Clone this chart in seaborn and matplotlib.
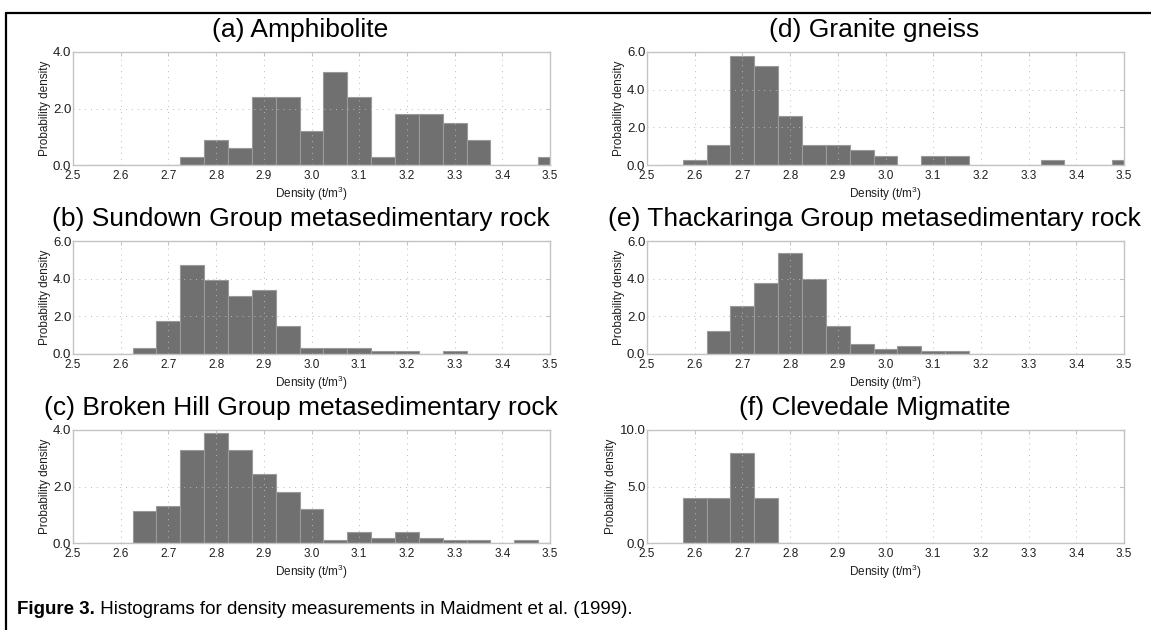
import numpy as np
import pandas as pd
import matplotlib
matplotlib.use("Agg")
import matplotlib.pyplot as plt
from matplotlib.lines import Line2D
import matplotlib.transforms as mtransforms
import seaborn as sns

# Bin centres (t/m^3), shared by all panels; bins are 0.05 wide
bin_centers = [2.55, 2.60, 2.65, 2.70, 2.75, 2.80, 2.85, 2.90, 2.95, 3.00,
               3.05, 3.10, 3.15, 3.20, 3.25, 3.30, 3.35, 3.40, 3.45, 3.50]

# Probability density per bin for each rock unit
amphibolite = [0, 0, 0, 0, 0.30, 0.90, 0.60, 2.40, 2.40, 1.20,
               3.30, 2.40, 0.30, 1.80, 1.80, 1.50, 0.90, 0, 0, 0.30]
sundown = [0, 0, 0.30, 1.75, 4.75, 3.95, 3.10, 3.40, 1.50, 0.30,
           0.30, 0.30, 0.15, 0.15, 0, 0.15, 0, 0, 0, 0]
broken_hill = [0, 0, 1.12, 1.32, 3.30, 3.88, 3.30, 2.45, 1.80, 1.22,
               0.10, 0.38, 0.18, 0.38, 0.18, 0.10, 0.10, 0, 0.10, 0]
granite_gneiss = [0, 0.25, 1.05, 5.80, 5.25, 2.60, 1.05, 1.05, 0.80, 0.50,
                  0, 0.50, 0.50, 0, 0, 0, 0.25, 0, 0, 0.25]
thackaringa = [0, 0, 1.20, 2.55, 3.75, 5.35, 4.00, 1.50, 0.55, 0.28,
               0.40, 0.14, 0.14, 0, 0, 0, 0, 0, 0, 0]
clevedale = [0, 4.0, 4.0, 8.0, 4.0, 0, 0, 0, 0, 0,
             0, 0, 0, 0, 0, 0, 0, 0, 0, 0]

panel_titles = ["(a) Amphibolite",
                "(b) Sundown Group metasedimentary rock",
                "(c) Broken Hill Group metasedimentary rock",
                "(d) Granite gneiss",
                "(e) Thackaringa Group metasedimentary rock",
                "(f) Clevedale Migmatite"]
panel_values = [amphibolite, sundown, broken_hill,
                granite_gneiss, thackaringa, clevedale]
panel_yticks = [[0, 2, 4], [0, 2, 4, 6], [0, 2, 4],
                [0, 2, 4, 6], [0, 2, 4, 6], [0, 5, 10]]
x_ticks = [2.5, 2.6, 2.7, 2.8, 2.9, 3.0, 3.1, 3.2, 3.3, 3.4, 3.5]

caption_bold = "Figure 3."
caption_text = " Histograms for density measurements in Maidment et al. (1999)."

sns.set_style("white")
plt.rcParams["font.family"] = ["Liberation Sans", "DejaVu Sans"]
plt.rcParams["mathtext.fontset"] = "custom"
plt.rcParams["mathtext.rm"] = "Liberation Sans"
plt.rcParams["mathtext.it"] = "Liberation Sans:italic"
plt.rcParams["mathtext.bf"] = "Liberation Sans:bold"

W, H = 1151, 630
fig = plt.figure(figsize=(W / 100, H / 100), dpi=100)
fig.patch.set_facecolor("white")

col_x = [73, 647]
row_top = [52, 241, 430]
ax_w, ax_h = 477, 113

bar_face = "#707070"
bar_edge = "#9a9a9a"
frame_col = "#c4c4c4"
grid_col = "#b8b8b8"
text_col = "#1e1e1e"

centers = np.array(bin_centers)
bin_lo = float(centers[0] - 0.025)
bin_hi = float(centers[-1] + 0.025)

for i, (title, vals, yt) in enumerate(zip(panel_titles, panel_values, panel_yticks)):
    col, row = divmod(i, 3)
    left = col_x[col]
    top = row_top[row]
    ax = fig.add_axes([left / W, 1 - (top + ax_h) / H, ax_w / W, ax_h / H])
    df = pd.DataFrame({"density": centers, "prob": np.array(vals, dtype=float)})
    df = df[df["prob"] > 0].reset_index(drop=True)
    sns.histplot(data=df, x="density", weights="prob", binwidth=0.05,
                 binrange=(bin_lo, bin_hi), stat="count", ax=ax,
                 color=bar_face, alpha=1.0, edgecolor=bar_edge,
                 linewidth=0.8, zorder=2)
    ax.set_xlim(2.5, 3.5)
    ax.set_ylim(0, yt[-1])
    ax.set_xticks(x_ticks)
    ax.set_xticklabels([f"{t:.1f}" for t in x_ticks])
    ax.set_yticks(yt)
    ax.set_yticklabels([f"{t:.1f}" for t in yt])
    # dotted grid drawn over the bars
    ax.set_axisbelow(False)
    ax.grid(True, which="major", linestyle=(0, (1, 5)), color=grid_col,
            linewidth=0.7, zorder=3)
    for sp in ax.spines.values():
        sp.set_color(frame_col)
        sp.set_linewidth(1.0)
        sp.set_visible(True)
        sp.set_zorder(4)
    ax.tick_params(axis="both", direction="in", length=3, width=0.8,
                   color=frame_col, labelcolor=text_col,
                   top=True, right=True)
    ax.tick_params(axis="x", pad=3.5, labelsize=8.5)
    ax.tick_params(axis="y", pad=1.2, labelsize=9.5)
    ax.set_xlabel(r"Density (t/m$^{3}$)", fontsize=8.5, color=text_col,
                  labelpad=2)
    ax.set_ylabel("Probability density", fontsize=8.5, color=text_col,
                  labelpad=1.5)
    # panel heading, placed a fixed pixel distance above the frame
    off = mtransforms.offset_copy(ax.transAxes, fig=fig, x=-11, y=22, units="dots")
    ax.text(0.5, 1.0, title, transform=off, ha="center", va="center",
            fontsize=19, color="black")

# caption with bold label
cap_y = 1 - 610 / H
t1 = fig.text(17 / W, cap_y, caption_bold, fontsize=13.5, fontweight="bold",
              va="center", ha="left", color="black")
fig.canvas.draw()
bb = t1.get_window_extent(renderer=fig.canvas.get_renderer())
fig.text(bb.x1 / W, cap_y, caption_text, fontsize=13.5, va="center",
         ha="left", color="black")

# figure frame: rule along the top and down the left side
fig.add_artist(Line2D([6 / W, 1.0], [1 - 12.5 / H, 1 - 12.5 / H],
                      transform=fig.transFigure, color="black", linewidth=1.6))
fig.add_artist(Line2D([6 / W, 6 / W], [1 - 12.5 / H, 0.0],
                      transform=fig.transFigure, color="black", linewidth=1.6))

fig.savefig("out.png", dpi=100, facecolor="white")
